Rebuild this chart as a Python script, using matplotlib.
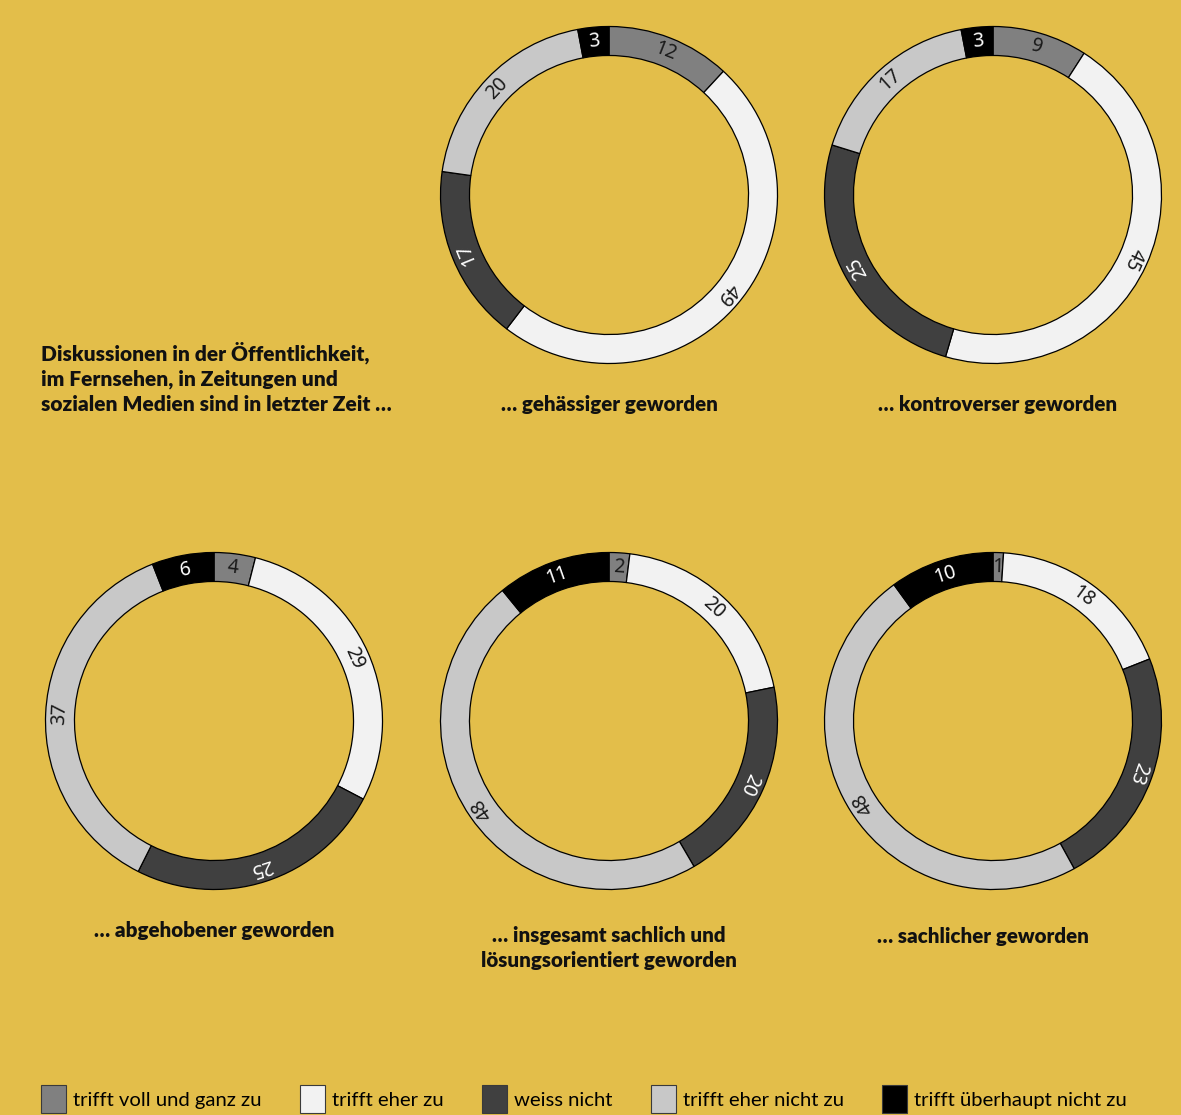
import matplotlib
matplotlib.use("Agg")
import matplotlib.pyplot as plt
import matplotlib.patches as mpatches
import numpy as np

# answer categories, clockwise from 12 o'clock
categories = [
    "trifft voll und ganz zu",
    "trifft eher zu",
    "weiss nicht",
    "trifft eher nicht zu",
    "trifft überhaupt nicht zu",
]
colors = ["#808080", "#F2F2F2", "#404040", "#C8C8C8", "#000000"]
label_colors = ["#1a1a1a", "#1a1a1a", "#ffffff", "#1a1a1a", "#ffffff"]

titles = [
    "… gehässiger geworden",
    "… kontroverser geworden",
    "… abgehobener geworden",
    "… insgesamt sachlich und\nlösungsorientiert geworden",
    "… sachlicher geworden",
]
gehaessiger = [12, 49, 17, 20, 3]
kontroverser = [9, 45, 25, 17, 3]
abgehobener = [4, 29, 25, 37, 6]
loesungsorientiert = [2, 20, 20, 48, 11]
sachlicher = [1, 18, 23, 48, 10]
series = [gehaessiger, kontroverser, abgehobener, loesungsorientiert, sachlicher]

intro = "Diskussionen in der Öffentlichkeit,\nim Fernsehen, in Zeitungen und\nsozialen Medien sind in letzter Zeit …"

BG = "#E3BE4A"
W, H = 1181, 1115
R_PX = 168.5      # outer radius in pixels
RING = 0.172      # ring width relative to outer radius
S_PX = 172        # half size of each donut axes

centers = [(609, 195), (993, 195), (214, 721), (609, 721), (993, 721)]
title_pos = [(609, 404), (998, 404), (214, 930), (609, 948), (983, 936)]


def fx(x):
    return x / W


def fy(y):
    return 1 - y / H


fig = plt.figure(figsize=(W / 100, H / 100), dpi=100, facecolor=BG)

for vals, (cx, cy) in zip(series, centers):
    ax = fig.add_axes([fx(cx - S_PX), fy(cy + S_PX), 2 * S_PX / W, 2 * S_PX / H])
    ax.set_facecolor(BG)
    ax.pie(
        vals,
        colors=colors,
        startangle=90,
        counterclock=False,
        radius=1.0,
        wedgeprops=dict(width=RING, edgecolor="black", linewidth=0.9),
    )
    lim = S_PX / R_PX
    ax.set_xlim(-lim, lim)
    ax.set_ylim(-lim, lim)
    ax.set_aspect("equal")
    ax.axis("off")

    total = float(sum(vals))
    cum = np.cumsum([0] + list(vals))
    r_lab = 1 - RING / 2
    for i, v in enumerate(vals):
        mid = (cum[i] + v / 2) / total * 360.0
        th = np.deg2rad(90 - mid)
        ax.text(
            r_lab * np.cos(th),
            r_lab * np.sin(th),
            str(v),
            rotation=-mid,
            rotation_mode="anchor",
            ha="center",
            va="center",
            fontsize=14,
            family="Noto Sans",
            color=label_colors[i],
        )

for t, (x, y) in zip(titles, title_pos):
    fig.text(fx(x), fy(y), t, ha="center", va="center", fontsize=14.8,
             family="Lato", fontweight="heavy", color="#111111", linespacing=1.35)

fig.text(fx(41), fy(342), intro, ha="left", va="top", fontsize=15,
         family="Lato", fontweight="heavy", color="#111111", linespacing=1.33)

handles = [mpatches.Patch(facecolor=c, edgecolor="#3a3a3a", linewidth=0.8) for c in colors]
fig.legend(
    handles,
    categories,
    loc="center left",
    bbox_to_anchor=(fx(41), fy(1099)),
    ncol=5,
    frameon=False,
    borderpad=0,
    borderaxespad=0,
    handlelength=1.24,
    handleheight=1.69,
    handletextpad=0.35,
    columnspacing=1.88,
    prop=dict(family="Lato", size=14.6),
)

fig.savefig("out.png", dpi=100, facecolor=BG)
